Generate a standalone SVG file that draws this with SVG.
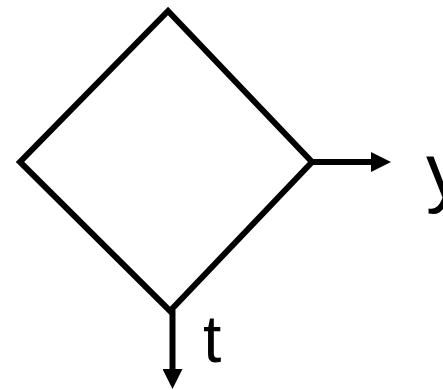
<svg xmlns="http://www.w3.org/2000/svg" width="443" height="390" viewBox="0 0 443 390">
<style>
.shape{fill:none;stroke:#000;stroke-width:6;stroke-linejoin:miter}
.conn{stroke:#000;stroke-width:6;fill:none}
.lbl{font-family:"Liberation Sans",Arial,sans-serif;fill:#000}
</style>
<defs>
<marker id="ah" viewBox="0 0 20 20" refX="2" refY="10" markerWidth="20" markerHeight="20" markerUnits="userSpaceOnUse" orient="auto">
<path d="M0,0 L20,10 L0,20 Z" fill="#000"/>
</marker>
</defs>
<g id="decision">
<polygon class="shape" points="168,11 20,162 170,311 312,162"/>
</g>
<g id="connectors">
<line class="conn" x1="312" y1="162" x2="373" y2="162" marker-end="url(#ah)"/>
<line class="conn" x1="172.5" y1="310" x2="172.5" y2="371" marker-end="url(#ah)"/>
</g>
<g id="labels">
<text class="lbl" x="426" y="198" font-size="78">y</text>
<text class="lbl" x="203" y="362" font-size="66">t</text>
</g>
</svg>
